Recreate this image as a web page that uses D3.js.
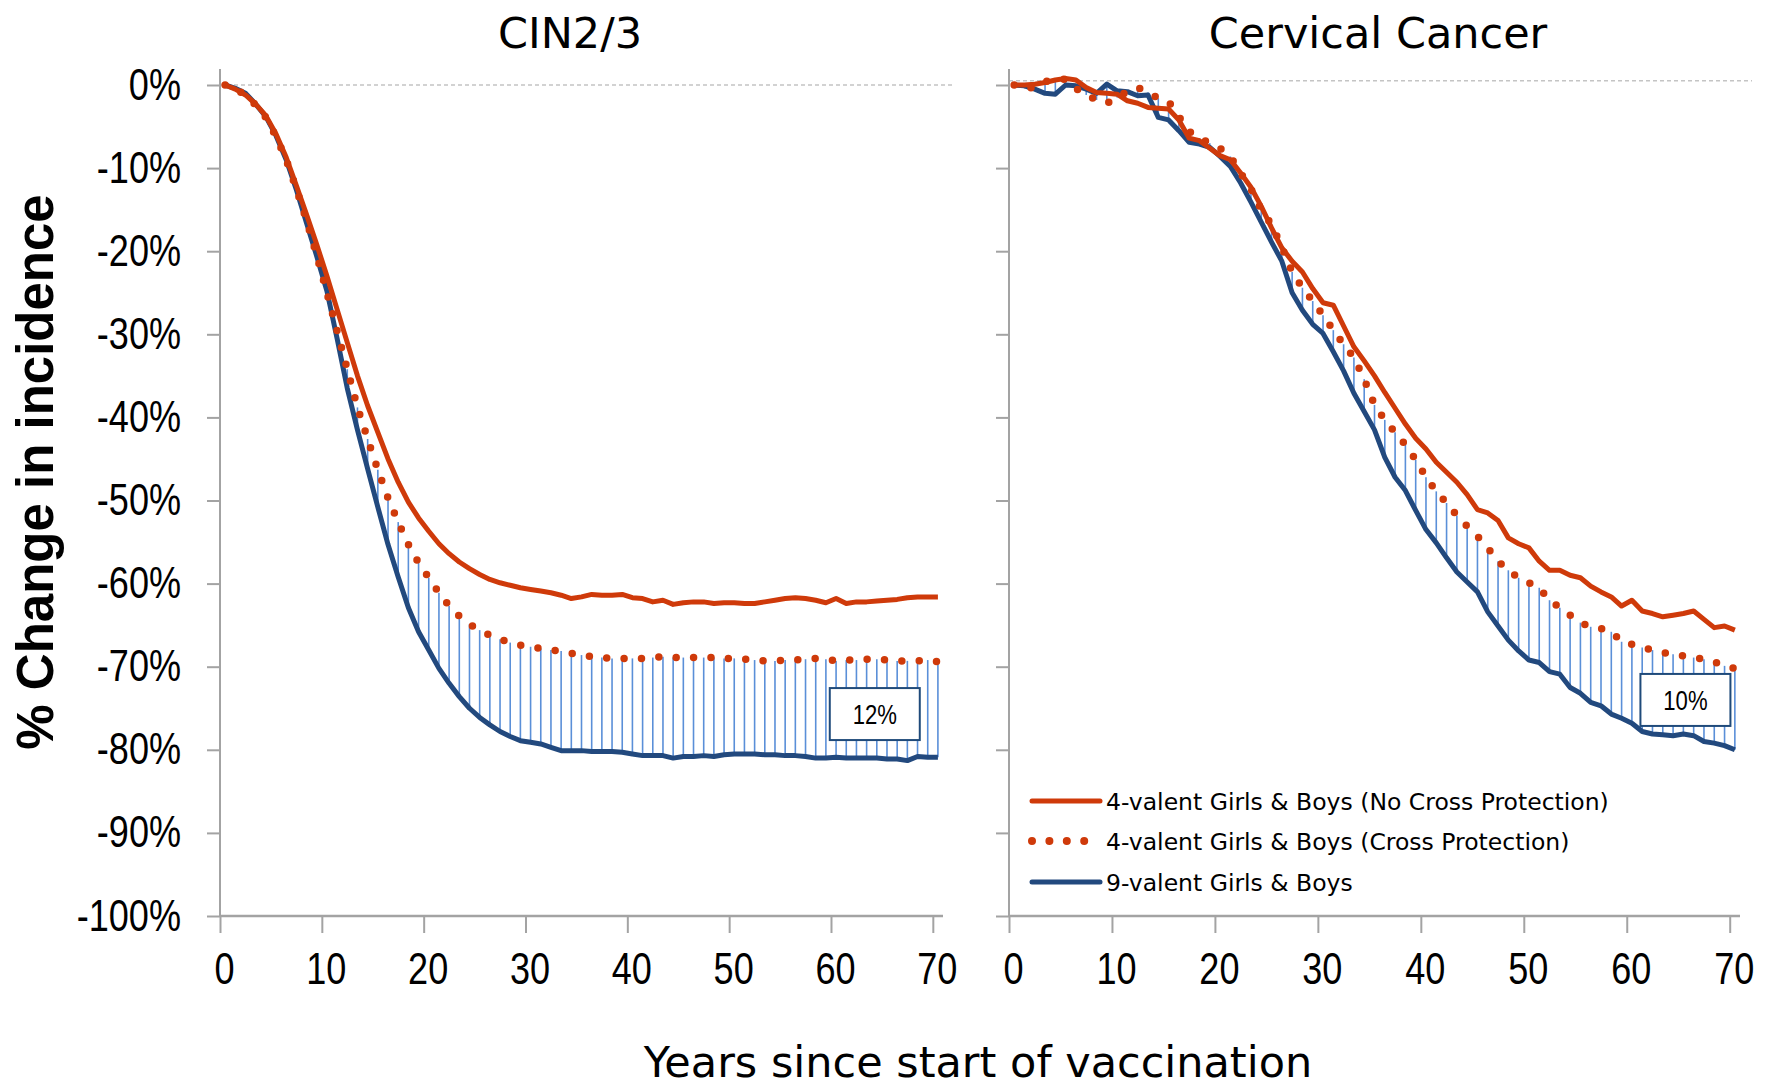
<!DOCTYPE html>
<html>
<head>
<meta charset="utf-8">
<script src="https://cdn.jsdelivr.net/npm/d3@7"></script>
<style>
  body { margin: 0; background: #fff; }
</style>
</head>
<body>
<div id="chart"></div>
<script>
/*-- chart data --*/
var years = d3.range(0, 71);   // one category per year, plotted at mid-year
var xTicks = [0, 10, 20, 30, 40, 50, 60, 70];
var yTicks = [0, -10, -20, -30, -40, -50, -60, -70, -80, -90, -100];
var panelTitles = ["CIN2/3", "Cervical Cancer"];
var gapLabels = ["12%", "10%"];
var seriesNames = [
  "4-valent Girls & Boys (No Cross Protection)",
  "4-valent Girls & Boys (Cross Protection)",
  "9-valent Girls & Boys"
];

// CIN2/3 panel (% change in incidence)
var cinNoCross = [
  0, -0.5, -1.2, -2.3, -3.7, -5.9, -8.7, -12.1, -15.6, -19.2,
  -23.0, -27.0, -31.0, -35.0, -38.6, -41.8, -45.0, -47.8, -50.2, -52.1,
  -53.7, -55.2, -56.4, -57.4, -58.2, -58.9, -59.5, -59.9, -60.2, -60.5,
  -60.7, -60.9, -61.1, -61.4, -61.8, -61.6, -61.3, -61.4, -61.4, -61.3,
  -61.7, -61.8, -62.2, -62.0, -62.5, -62.3, -62.2, -62.2, -62.4, -62.3,
  -62.3, -62.4, -62.4, -62.2, -62.0, -61.8, -61.7, -61.8, -62.0, -62.3,
  -61.8, -62.4, -62.2, -62.2, -62.1, -62.0, -61.9, -61.7, -61.6, -61.6, -61.6
];
var cinCross = [
  0, -0.5, -1.2, -2.4, -3.9, -6.2, -9.0, -12.5, -16.3, -20.5,
  -25.0, -29.6, -34.2, -38.8, -42.6, -46.3, -49.7, -52.6, -55.3, -57.5,
  -59.3, -61.1, -62.7, -63.9, -64.9, -65.6, -66.2, -66.7, -67.1, -67.4,
  -67.6, -67.8, -68.0, -68.1, -68.4, -68.6, -68.8, -68.9, -69.0, -69.0,
  -69.0, -69.0, -68.9, -68.8, -68.9, -68.9, -68.9, -68.9, -68.9, -69.0,
  -69.0, -69.1, -69.2, -69.3, -69.3, -69.2, -69.2, -69.1, -69.0, -69.1,
  -69.3, -69.2, -69.2, -69.1, -69.1, -69.2, -69.3, -69.3, -69.3, -69.2, -69.4
];
var cin9v = [
  0, -0.4, -1.0, -2.3, -3.8, -6.1, -9.0, -12.6, -16.6, -20.6,
  -24.8, -30.5, -36.5, -41.5, -46.2, -50.8, -55.3, -59.2, -62.9, -65.8,
  -68.0, -70.2, -72.0, -73.6, -75.0, -76.1, -77.0, -77.8, -78.4, -78.9,
  -79.1, -79.3, -79.7, -80.1, -80.1, -80.1, -80.2, -80.2, -80.2, -80.3,
  -80.5, -80.7, -80.7, -80.7, -81.0, -80.8, -80.8, -80.7, -80.8, -80.6,
  -80.5, -80.5, -80.5, -80.6, -80.6, -80.7, -80.7, -80.8, -81.0, -81.0,
  -80.9, -81.0, -81.0, -81.0, -81.0, -81.1, -81.1, -81.3, -80.8, -80.9, -80.9
];

// Cervical cancer panel
var ccNoCross = [
  0, 0, 0.1, 0.3, 0.6, 0.8, 0.6, -0.3, -0.9, -1.0,
  -1.1, -1.9, -2.2, -2.7, -2.8, -2.9, -4.2, -6.4, -6.7, -7.6,
  -8.5, -9.0, -10.6, -12.3, -14.6, -17.2, -19.6, -21.2, -22.5, -24.5,
  -26.2, -26.5, -29.0, -31.5, -33.2, -35.0, -37.0, -38.9, -40.8, -42.5,
  -43.8, -45.4, -46.6, -47.8, -49.3, -51.1, -51.5, -52.4, -54.5, -55.2,
  -55.7, -57.3, -58.4, -58.4, -59.0, -59.3, -60.3, -61.0, -61.6, -62.7,
  -62.0, -63.3, -63.6, -64.0, -63.8, -63.6, -63.3, -64.3, -65.3, -65.1, -65.6
];
var ccCross = [
  0, -0.4, -0.3, 0.4, 0.7, 0.7, -0.4, -1.2, -1.8, -2.2,
  -1.5, -0.8, -0.3, -0.9, -1.6, -2.0, -3.8, -5.6, -6.4, -7.0,
  -7.6, -8.6, -10.6, -12.5, -15.0, -16.8, -19.5, -22.5, -24.4, -26.0,
  -27.7, -29.5, -31.2, -32.8, -35.4, -38.5, -40.3, -41.8, -43.3, -45.1,
  -47.2, -48.9, -50.3, -51.8, -53.1, -54.3, -55.7, -57.3, -58.4, -59.3,
  -59.9, -60.5, -62.0, -62.9, -63.8, -64.7, -65.2, -65.4, -65.8, -67.0,
  -67.3, -67.7, -68.0, -68.3, -68.5, -68.7, -68.9, -69.1, -69.4, -69.9, -70.2
];
var cc9v = [
  0, -0.1, -0.5, -1.0, -1.1, 0, -0.1, -0.5, -1.0, 0.1,
  -0.7, -0.8, -1.3, -1.2, -3.9, -4.2, -5.5, -6.9, -7.1, -7.5,
  -8.6, -9.8, -11.8, -14.1, -16.5, -18.9, -21.2, -25.0, -27.1, -28.8,
  -29.9, -32.1, -34.4, -37.1, -39.3, -41.5, -44.8, -47.2, -48.8, -51.2,
  -53.5, -55.1, -56.9, -58.6, -59.8, -61.0, -63.4, -65.1, -66.8, -68.1,
  -69.2, -69.5, -70.6, -70.9, -72.5, -73.2, -74.3, -74.7, -75.7, -76.2,
  -76.8, -77.8, -78.1, -78.2, -78.3, -78.1, -78.3, -79.0, -79.2, -79.5, -80.0
];

/*-- styles --*/
var red = "#cf3a0a", blue = "#22497e", dropBlue = "#5a8fd8", axisGrey = "#a3a3a3";
var sans = "'Liberation Sans', Arial, sans-serif";
var tahomaLike = "'DejaVu Sans', sans-serif";
var squeeze = 0.82;   // tick labels use a condensed face in the original

var svg = d3.select("#chart").append("svg")
  .attr("width", 1771)
  .attr("height", 1089);

var y = d3.scaleLinear().domain([-100, 0]).range([916, 85]);

var panels = [
  {title: panelTitles[0], titleX: 570, left: 220, right: 943,
   noCross: cinNoCross, cross: cinCross, nine: cin9v,
   label: gapLabels[0], labelYear: 64.3, labelVal: -75.7, refVal: 0, tickLabels: true},
  {title: panelTitles[1], titleX: 1378, left: 1009, right: 1740,
   noCross: ccNoCross, cross: ccCross, nine: cc9v,
   label: gapLabels[1], labelYear: 65.7, labelVal: -74.0, refVal: 0.5, tickLabels: false}
];

panels.forEach(function(p) {
  var x = d3.scaleLinear().domain([0, 71]).range([p.left, p.right]);
  var g = svg.append("g");

  // title
  g.append("text")
    .attr("x", p.titleX).attr("y", 48)
    .attr("text-anchor", "middle")
    .attr("font-family", tahomaLike).attr("font-size", 43)
    .text(p.title);

  // dashed 0% reference
  g.append("line")
    .attr("x1", p.left).attr("x2", p.right + 12)
    .attr("y1", y(p.refVal)).attr("y2", y(p.refVal))
    .attr("stroke", "#c4c4c4").attr("stroke-width", 1.5)
    .attr("stroke-dasharray", "4,3");

  // y axis
  var gy = g.append("g")
    .attr("transform", "translate(" + p.left + ",0)")
    .call(d3.axisLeft(y).tickValues(yTicks).tickSize(13).tickSizeOuter(0)
      .tickFormat(p.tickLabels ? function(d) { return d + "%"; } : ""));
  gy.select(".domain").remove();
  gy.selectAll(".tick line").attr("stroke", axisGrey).attr("stroke-width", 2);
  gy.selectAll(".tick text")
    .attr("x", -39 / squeeze)
    .attr("transform", "scale(" + squeeze + ",1)")
    .attr("font-family", sans).attr("font-size", 44).attr("fill", "#000");
  g.append("line")
    .attr("x1", p.left).attr("x2", p.left)
    .attr("y1", y(-100)).attr("y2", 69)
    .attr("stroke", axisGrey).attr("stroke-width", 2);

  // x axis
  var gx = g.append("g")
    .attr("transform", "translate(0," + y(-100) + ")")
    .call(d3.axisBottom(x).tickValues(xTicks).tickSize(17).tickSizeOuter(0));
  gx.select(".domain").remove();
  gx.selectAll(".tick line").attr("stroke", axisGrey).attr("stroke-width", 2);
  gx.selectAll(".tick text")
    .attr("y", 37).attr("dx", 4 / squeeze)
    .attr("transform", "scale(" + squeeze + ",1)")
    .attr("font-family", sans).attr("font-size", 44).attr("fill", "#000");
  g.append("line")
    .attr("x1", p.left).attr("x2", p.right)
    .attr("y1", y(-100)).attr("y2", y(-100))
    .attr("stroke", axisGrey).attr("stroke-width", 2.5);

  // drop lines between the cross-protection and 9-valent series
  g.append("g").selectAll("line")
    .data(years)
    .enter().append("line")
      .attr("x1", function(d) { return x(d + 0.5); })
      .attr("x2", function(d) { return x(d + 0.5); })
      .attr("y1", function(d, i) { return y(p.cross[i]); })
      .attr("y2", function(d, i) { return y(p.nine[i]); })
      .attr("stroke", dropBlue).attr("stroke-width", 1.6);

  var line = d3.line()
    .x(function(d, i) { return x(years[i] + 0.5); })
    .y(function(d) { return y(d); });

  g.append("path").datum(p.nine)
    .attr("d", line).attr("fill", "none")
    .attr("stroke", blue).attr("stroke-width", 5)
    .attr("stroke-linejoin", "round");

  g.append("path").datum(p.cross)
    .attr("d", line).attr("fill", "none")
    .attr("stroke", red).attr("stroke-width", 7.5)
    .attr("stroke-linecap", "round")
    .attr("stroke-dasharray", "0,17.4");

  g.append("path").datum(p.noCross)
    .attr("d", line).attr("fill", "none")
    .attr("stroke", red).attr("stroke-width", 5)
    .attr("stroke-linejoin", "round");

  // gap annotation box
  var bx = x(p.labelYear), by = y(p.labelVal);
  g.append("rect")
    .attr("x", bx - 45).attr("y", by - 26)
    .attr("width", 90).attr("height", 52)
    .attr("fill", "#fff").attr("stroke", "#1f4a7a").attr("stroke-width", 2);
  g.append("text")
    .attr("transform", "translate(" + bx + "," + (by + 10) + ") scale(" + squeeze + ",1)")
    .attr("text-anchor", "middle")
    .attr("font-family", sans).attr("font-size", 27)
    .text(p.label);
});

// axis titles
svg.append("text")
  .attr("transform", "translate(53,472) rotate(-90)")
  .attr("text-anchor", "middle")
  .attr("font-family", sans)
  .attr("font-weight", "bold").attr("font-size", 51)
  .text("% Change in incidence");

svg.append("text")
  .attr("x", 978).attr("y", 1077)
  .attr("text-anchor", "middle")
  .attr("font-family", tahomaLike).attr("font-size", 43)
  .text("Years since start of vaccination");

// legend
var legendY = [801, 841, 882];
var legend = svg.append("g");
seriesNames.forEach(function(name, i) {
  var ly = legendY[i];
  var item = legend.append("line")
    .attr("x1", 1032).attr("x2", i == 1 ? 1086 : 1100)
    .attr("y1", ly).attr("y2", ly)
    .attr("stroke", i == 2 ? blue : red)
    .attr("stroke-linecap", "round");
  if (i == 1) {
    item.attr("stroke-width", 8).attr("stroke-dasharray", "0,17.4");
  } else {
    item.attr("stroke-width", 5);
  }
  legend.append("text")
    .attr("x", 1106).attr("y", ly + 9)
    .attr("font-family", tahomaLike).attr("font-size", 23.5)
    .text(name);
});
</script>
</body>
</html>
